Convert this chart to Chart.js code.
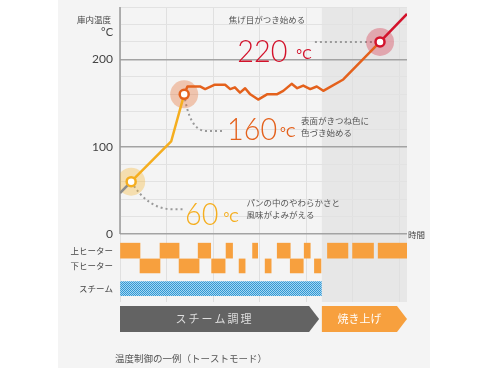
<!DOCTYPE html>
<html lang="ja">
<head>
<meta charset="utf-8">
<title>温度制御の一例（トーストモード）</title>
<script src="https://cdn.jsdelivr.net/npm/chart.js@4.4.1/dist/chart.umd.min.js"></script>
<style>
  html, body { margin: 0; padding: 0; background: #fff; }
  #wrap { position: relative; width: 490px; height: 368px; }
</style>
</head>
<body>
<div id="wrap"><canvas id="chart" width="490" height="368"></canvas></div>
<script>
// time runs 0..6 (one grid column per unit), temperature in °C
const tempX = [0, 0.24, 1.10, 1.38, 1.45, 1.72, 1.83, 2.04, 2.26, 2.37, 2.47, 2.58, 2.69, 2.80,
               2.97, 3.16, 3.37, 3.51, 3.69, 3.81, 3.94, 4.09, 4.23, 4.37, 4.80, 5.59, 6.17];
const tempY = [47, 60, 106, 160, 169, 169, 166, 171, 171, 166, 168, 162, 167, 160,
               154, 160, 160, 164, 172, 167, 170, 166, 169, 164, 177, 220, 252];

// key points on the curve (index into tempX / tempY)
const pinIndex = [1, 3, 25];
const pinLabels = ['60', '160', '220'];

// heater / steam on-off spans along the time axis
const upperHeater = [[0, 0.43], [0.86, 1.27], [1.68, 1.95], [2.28, 2.42], [2.85, 2.96],
                     [3.38, 3.66], [3.96, 4.09], [4.46, 4.90], [5.00, 5.45], [5.55, 6.17]];
const lowerHeater = [[0.43, 0.86], [1.27, 1.70], [1.97, 2.26], [2.56, 2.69], [3.12, 3.25],
                     [3.66, 3.94], [4.18, 4.32]];
const steam = [[0, 4.33]];

const rowLabels = ['スチーム', '下ヒーター', '上ヒーター'];
const rowValues = [-62.5, -36.5, -19];

const tempTicks = [0, 20, 40, 60, 80, 100, 120, 140, 160, 180, 200, 220, 240, 260];
const timeTicks = [0, 1, 2, 3, 4, 5, 6];

const phaseLabels = ['スチーム調理', '焼き上げ'];
const phaseStart = [0, 4.34];
const phaseEnd = [4.28, 6.17];

const JP = '"Noto Sans CJK JP", "Noto Sans", sans-serif';
const NUM = 'Lato, "Noto Sans", sans-serif';

const segColors = ['#8c8c8c', '#f5ae1f', '#e4611c', '#d3122b'];
const pinColors = ['#f5ae1f', '#e4611c', '#d3122b'];
const haloColors = ['rgba(246,180,40,0.34)', 'rgba(229,97,27,0.32)', 'rgba(211,18,43,0.30)'];
const heaterColor = '#f7a03e';

function segmentColor(i) {
    if (i < pinIndex[0]) return segColors[0];
    if (i < pinIndex[1]) return segColors[1];
    if (i < pinIndex[2]) return segColors[2];
    return segColors[3];
}

const canvas = document.getElementById('chart');

function steamPattern() {
    const c = document.createElement('canvas');
    c.width = 2; c.height = 2;
    const g = c.getContext('2d');
    g.fillStyle = '#a6d5f0';
    g.fillRect(0, 0, 2, 2);
    g.fillStyle = '#2f98d5';
    g.fillRect(0, 0, 1, 1);
    g.fillRect(1, 1, 1, 1);
    return canvas.getContext('2d').createPattern(c, 'repeat');
}

function spans(list, row) {
    return list.map(r => ({ x: r, y: rowValues[row] }));
}

function text(ctx, str, x, y, font, color, align) {
    ctx.font = font;
    ctx.fillStyle = color;
    ctx.textAlign = align || 'left';
    ctx.fillText(str, x, y);
}

// annotations, anchored in data coordinates
const bigLabels = [
    { x: 1.40, y: 10, gap: 5 },
    { x: 2.30, y: 107.5, gap: 3 },
    { x: 2.52, y: 197, gap: 9 }
];
const notes = [
    { x: 2.34, y: 245, lines: ['焦げ目がつき始める'] },
    { x: 3.89, y: 129.5, lines: ['表面がきつね色に', '色づき始める'] },
    { x: 2.72, y: 36, lines: ['パンの中のやわらかさと', '風味がよみがえる'] }
];

const decor = {
    id: 'decor',
    beforeDraw(chart) {
        const { ctx, chartArea: a, scales: { x } } = chart;
        ctx.save();
        ctx.fillStyle = '#f4f4f4';
        ctx.fillRect(58, 0, 372, chart.height);
        // shaded "焼き上げ" period
        const sx = x.getPixelForValue(phaseStart[1]);
        ctx.fillStyle = '#e7e7e7';
        ctx.fillRect(sx, a.top, a.right - sx, a.bottom - a.top);
        ctx.restore();
    },
    beforeDatasetsDraw(chart) {
        const { ctx, scales: { x, y } } = chart;
        ctx.save();
        // y axis line down to 0
        ctx.strokeStyle = '#9a9a9a';
        ctx.lineWidth = 1.5;
        ctx.beginPath();
        ctx.moveTo(x.getPixelForValue(0), y.getPixelForValue(tempTicks[tempTicks.length - 1]));
        ctx.lineTo(x.getPixelForValue(0), y.getPixelForValue(0));
        ctx.stroke();

        // dotted leader lines from key points to their labels
        ctx.strokeStyle = '#9a9a9a';
        ctx.lineWidth = 2;
        ctx.setLineDash([2, 3]);
        const P = (vx, vy) => [x.getPixelForValue(vx), y.getPixelForValue(vy)];
        const p0 = P(tempX[pinIndex[0]], tempY[pinIndex[0]]);
        let c = P(0.60, 28.5), e = P(1.12, 28.5), f = P(1.36, 28.5);
        ctx.beginPath();
        ctx.moveTo(p0[0], p0[1]);
        ctx.quadraticCurveTo(c[0], c[1], e[0], e[1]);
        ctx.lineTo(f[0], f[1]);
        ctx.stroke();

        const p1 = P(tempX[pinIndex[1]], tempY[pinIndex[1]]);
        c = P(1.50, 118); e = P(1.85, 118); f = P(2.20, 118);
        ctx.beginPath();
        ctx.moveTo(p1[0], p1[1]);
        ctx.quadraticCurveTo(c[0], c[1], e[0], e[1]);
        ctx.lineTo(f[0], f[1]);
        ctx.stroke();

        const p2 = P(tempX[pinIndex[2]], tempY[pinIndex[2]]);
        const s2 = P(4.19, tempY[pinIndex[2]]);
        ctx.beginPath();
        ctx.moveTo(s2[0], s2[1]);
        ctx.lineTo(p2[0], p2[1]);
        ctx.stroke();
        ctx.restore();
    },
    afterDraw(chart) {
        const { ctx, chartArea: a, scales: { x, y } } = chart;
        ctx.save();
        ctx.textBaseline = 'middle';

        // axis titles
        text(ctx, '庫内温度', 111, 20, '8.5px ' + JP, '#444', 'right');
        text(ctx, '°C', 113, 32, '11px ' + NUM, '#444', 'right');
        text(ctx, '時間', a.right + 1, y.getPixelForValue(0) + 1, '8.5px ' + JP, '#444');

        // notes
        notes.forEach(n => {
            n.lines.forEach((l, k) => {
                text(ctx, l, x.getPixelForValue(n.x), y.getPixelForValue(n.y) + k * 12.3,
                    '8.5px ' + JP, '#555');
            });
        });

        // big temperature labels (slightly condensed thin digits)
        ctx.textBaseline = 'alphabetic';
        bigLabels.forEach((b, k) => {
            const bx = x.getPixelForValue(b.x), by = y.getPixelForValue(b.y);
            ctx.save();
            ctx.translate(bx, by);
            ctx.scale(0.9, 1);
            text(ctx, pinLabels[k], 0, 0, '300 32px ' + NUM, pinColors[k]);
            const w = ctx.measureText(pinLabels[k]).width * 0.9;
            ctx.restore();
            text(ctx, '°C', bx + w + b.gap, by - 3, '14px ' + NUM, pinColors[k]);
        });

        // phase arrows
        const top = a.bottom + 4, h = 26, tip = 10;
        const fills = ['#636363', '#f7a03e'];
        const inks = ['#dedede', '#ffffff'];
        phaseLabels.forEach((lab, k) => {
            const x0 = x.getPixelForValue(phaseStart[k]);
            const x1 = x.getPixelForValue(phaseEnd[k]);
            ctx.fillStyle = fills[k];
            ctx.beginPath();
            ctx.moveTo(x0, top);
            ctx.lineTo(x1 - tip, top);
            ctx.lineTo(x1, top + h / 2);
            ctx.lineTo(x1 - tip, top + h);
            ctx.lineTo(x0, top + h);
            ctx.closePath();
            ctx.fill();
            ctx.textBaseline = 'middle';
            ctx.letterSpacing = k === 0 ? '2px' : '0px';
            text(ctx, lab, (x0 + x1 - tip) / 2, top + h / 2, '11px ' + JP, inks[k], 'center');
        });
        ctx.letterSpacing = '0px';

        // caption
        text(ctx, '温度制御の一例（トーストモード）', 115, 358, '9.5px ' + JP, '#555');
        ctx.restore();
    }
};

const pinPoints = pinIndex.map(i => ({ x: tempX[i], y: tempY[i] }));

new Chart(canvas, {
    type: 'line',
    data: {
        datasets: [
            {
                type: 'scatter',
                label: 'pins',
                data: pinPoints,
                pointRadius: 4.5,
                pointBorderWidth: 2.5,
                pointBackgroundColor: '#ffffff',
                pointBorderColor: pinColors,
                order: 0
            },
            {
                type: 'line',
                label: '庫内温度',
                data: tempX.map((v, i) => ({ x: v, y: tempY[i] })),
                borderColor: segColors[2],
                borderWidth: 2.5,
                borderJoinStyle: 'round',
                pointRadius: 0,
                tension: 0,
                segment: { borderColor: c => segmentColor(c.p0DataIndex) },
                order: 1
            },
            {
                type: 'scatter',
                label: 'halo',
                data: pinPoints,
                pointRadius: 14,
                pointBorderWidth: 0,
                pointBackgroundColor: haloColors,
                order: 2
            },
            {
                type: 'bar', label: '上ヒーター', indexAxis: 'y', data: spans(upperHeater, 2),
                backgroundColor: heaterColor, grouped: false, barThickness: 15, borderWidth: 0, order: 3
            },
            {
                type: 'bar', label: '下ヒーター', indexAxis: 'y', data: spans(lowerHeater, 1),
                backgroundColor: heaterColor, grouped: false, barThickness: 14, borderWidth: 0, order: 3
            },
            {
                type: 'bar', label: 'スチーム', indexAxis: 'y', data: spans(steam, 0),
                backgroundColor: steamPattern(), grouped: false, barThickness: 14, borderWidth: 0, order: 3
            }
        ]
    },
    options: {
        responsive: false,
        maintainAspectRatio: false,
        animation: false,
        events: [],
        layout: { autoPadding: false, padding: { left: 0, top: 7, right: 83, bottom: 66 } },
        plugins: { legend: { display: false }, tooltip: { enabled: false } },
        scales: {
            x: {
                type: 'linear',
                min: 0,
                max: 6.17,
                offset: false,
                afterBuildTicks: s => { s.ticks = timeTicks.map(v => ({ value: v })); },
                afterFit: s => { s.height = 0; },
                ticks: { display: false },
                grid: { color: '#e0e0e0', lineWidth: 1, drawTicks: false, offset: false },
                border: { display: false }
            },
            y: {
                type: 'linear',
                min: -77.8,
                max: 260,
                offset: false,
                afterBuildTicks: s => { s.ticks = rowValues.concat(tempTicks).map(v => ({ value: v })); },
                afterFit: s => { s.width = 120; s.paddingTop = 0; s.paddingBottom = 0; },
                ticks: {
                    autoSkip: false,
                    padding: 7,
                    color: '#444',
                    font: c => (c.tick && c.tick.value < 0)
                        ? { family: JP, size: 8.5 }
                        : { family: NUM, size: 12 },
                    callback: v => {
                        const r = rowValues.indexOf(v);
                        if (r >= 0) return rowLabels[r];
                        return v % 100 === 0 ? String(v) : '';
                    }
                },
                grid: {
                    drawTicks: false,
                    offset: false,
                    color: c => {
                        const v = c.tick ? c.tick.value : 0;
                        if (v < 0) return 'rgba(0,0,0,0)';
                        return v % 100 === 0 ? '#a3a3a3' : '#e2e2e2';
                    },
                    lineWidth: c => (c.tick && c.tick.value % 100 === 0) ? 1.5 : 1
                },
                border: { display: false }
            }
        }
    },
    plugins: [decor]
});
</script>
</body>
</html>
